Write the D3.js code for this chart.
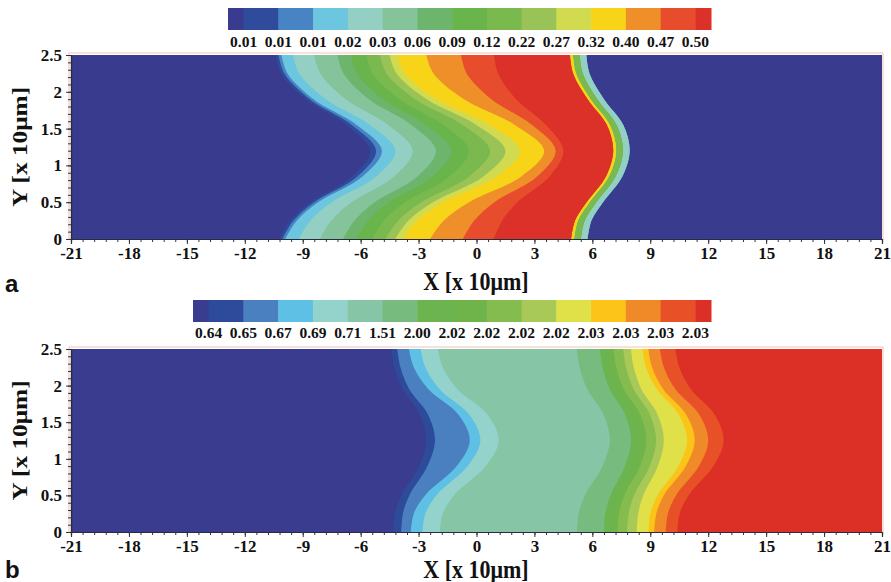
<!DOCTYPE html>
<html><head><meta charset="utf-8">
<script src="https://cdn.jsdelivr.net/npm/d3@7"></script>
<style>body{margin:0;background:#fff}svg{display:block}</style>
</head><body>
<svg id="c" width="891" height="582"></svg>
<script>
// ---------------- DATA ----------------
const xTicks = [-21,-18,-15,-12,-9,-6,-3,0,3,6,9,12,15,18,21];
const yTicks = [0,0.5,1,1.5,2,2.5];

// Panel a
const colorsA = ["#393c8e","#2f4b9b","#4884c4","#6cc6df","#93cfc3","#85c39a","#6db46d","#69b44b","#79b94e","#99c357","#d2db50","#f7d418","#ef8f29","#e74d2c","#dc3128"];
const labelsA = ["0.01","0.01","0.01","0.02","0.03","0.06","0.09","0.12","0.22","0.27","0.32","0.40","0.47","0.50"];
const ysA = [0,0.25,0.5,0.85,1.2,1.55,1.9,2.25,2.5];
const leftA = [
  [-10.2,-9.64,-8.6,-6.44,-5.5,-6.73,-8.83,-10.11,-10.4],
  [-10.05,-9.47,-8.4,-6.17,-5.2,-6.46,-8.63,-9.95,-10.25],
  [-9.9,-9.3,-8.2,-5.9,-4.9,-6.2,-8.44,-9.79,-10.1],
  [-9.2,-8.6,-7.5,-5.2,-4.2,-5.52,-7.8,-9.18,-9.5],
  [-8.1,-7.52,-6.47,-4.26,-3.3,-4.57,-6.77,-8.09,-8.4],
  [-6.9,-6.32,-5.27,-3.06,-2.1,-3.37,-5.57,-6.89,-7.2],
  [-6.2,-5.61,-4.53,-2.28,-1.3,-2.6,-4.84,-6.19,-6.5],
  [-5.4,-4.8,-3.7,-1.4,-0.4,-1.72,-4.0,-5.38,-5.7],
  [-4.7,-4.05,-2.86,-0.38,0.7,-0.72,-3.18,-4.66,-5.0],
  [-4.2,-3.52,-2.26,0.36,1.5,0.0,-2.58,-4.14,-4.5],
  [-3.8,-3.07,-1.74,1.04,2.25,0.66,-2.07,-3.72,-4.1],
  [-2.4,-1.69,-0.39,2.32,3.5,1.98,-0.65,-2.23,-2.6],
  [-0.7,-0.12,0.93,3.14,4.1,2.88,0.77,-0.51,-0.8],
  [0.9,1.33,2.12,3.78,4.5,3.6,2.05,1.12,0.9]
];
const redEdgeA    = [4.9,5.1,5.7,6.7,7.08,6.75,5.75,5.0,4.84];
const yellowEdgeA = [5.05,5.25,5.85,6.85,7.23,6.9,5.9,5.15,4.99];
const greenEdgeA  = [5.4,5.6,6.2,7.2,7.58,7.25,6.25,5.5,5.34];
const tealEdgeA   = [5.75,5.95,6.55,7.55,7.93,7.6,6.6,5.85,5.69];

// Panel b
const colorsB = ["#3a3c8f","#2e4b9b","#4a80c0","#5ec0e4","#94d2cc","#86c6a6","#77bb7f","#6bb44f","#6fb44b","#85bc50","#a8c858","#e0e048","#fcc418","#f08a28","#e85028","#dc3026"];
const labelsB = ["0.64","0.65","0.67","0.69","0.71","1.51","2.00","2.02","2.02","2.02","2.02","2.03","2.03","2.03","2.03"];
const ysB = [0,0.25,0.5,0.9,1.25,1.6,1.95,2.25,2.5];
const boundsB = [
  [-4.3,-4.22,-3.89,-2.97,-2.6,-2.92,-3.82,-4.26,-4.4],
  [-3.9,-3.81,-3.48,-2.54,-2.15,-2.5,-3.48,-3.94,-4.1],
  [-3.4,-3.25,-2.67,-1.02,-0.35,-0.92,-2.49,-3.25,-3.5],
  [-2.8,-2.65,-2.08,-0.46,0.2,-0.36,-1.91,-2.65,-2.9],
  [-1.9,-1.75,-1.17,0.48,1.15,0.58,-0.99,-1.75,-2.0],
  [5.2,5.29,5.61,6.53,6.9,6.59,5.74,5.34,5.2],
  [6.6,6.67,6.94,7.69,8.0,7.71,6.91,6.53,6.4],
  [7.0,7.07,7.34,8.09,8.4,8.11,7.31,6.93,6.8],
  [7.3,7.38,7.66,8.47,8.8,8.49,7.64,7.24,7.1],
  [7.8,7.88,8.16,8.97,9.3,8.99,8.14,7.74,7.6],
  [8.3,8.37,8.64,9.39,9.7,9.39,8.54,8.14,8.0],
  [8.9,9.0,9.38,10.46,10.9,10.49,9.34,8.78,8.6],
  [9.2,9.31,9.7,10.84,11.3,10.87,9.67,9.09,8.9],
  [9.8,9.91,10.33,11.52,12.0,11.55,10.3,9.7,9.5],
  [10.4,10.52,10.98,12.27,12.8,12.35,11.1,10.5,10.3]
];

// ---------------- DRAW ----------------
const svg = d3.select("#c");
const SERIF = "'Liberation Serif','Times New Roman',serif";
const SANS = "'Liberation Sans',Arial,sans-serif";

function colorbar(colors, labels, x0, x1, y0, y1, labY){
  const n = labels.length;
  const s = d3.scaleLinear().domain([-0.45, n - 1 + 0.45]).range([x0, x1]);
  const g = svg.append("g");
  colors.forEach((c,j)=>{
    const a = Math.max(j-1, -0.45), b = Math.min(j, n-1+0.45);
    g.append("rect").attr("x", s(a)).attr("y", y0).attr("width", s(b)-s(a)+0.5).attr("height", y1-y0).attr("fill", c);
  });
  g.selectAll("text").data(labels).join("text")
    .attr("x",(d,i)=>s(i)).attr("y",labY).attr("text-anchor","middle")
    .attr("font-family",SERIF).attr("font-weight","bold").attr("font-size",15.5).attr("fill","#111")
    .text(d=>d);
}

function panel(o){
  const x = d3.scaleLinear().domain([-21,21]).range([71,882]);
  const y = d3.scaleLinear().domain([0,2.5]).range([o.bottom,o.top]);
  const g = svg.append("g");
  const cid = "clip"+o.id;
  g.append("clipPath").attr("id",cid).append("rect")
    .attr("x",x(-21)).attr("y",y(2.5)).attr("width",x(21)-x(-21)).attr("height",y(0)-y(2.5));
  g.append("rect").attr("x",x(-21)-2).attr("y",y(2.5)-2).attr("width",x(21)-x(-21)+3).attr("height",y(0)-y(2.5)+2)
    .attr("fill","none").attr("stroke","#f2c4b6").attr("stroke-width",1);
  const pg = g.append("g").attr("clip-path",`url(#${cid})`);
  pg.append("rect").attr("x",x(-21)).attr("y",y(2.5)).attr("width",x(21)-x(-21)).attr("height",y(0)-y(2.5)).attr("fill",o.colors[0]);
  const area = d3.area().y(d=>y(d.y)).x0(d=>x(d.a)).x1(d=>x(d.b)).curve(d3.curveCatmullRom);
  o.bands.forEach((bd,k)=>{
    const pts = o.ys.map((yy,i)=>({y:yy, a:bd.left[i], b:bd.right[i]}));
    pg.append("path").attr("d",area(pts)).attr("fill",o.colors[k+1]);
  });
  g.append("g").attr("transform",`translate(0,${o.bottom})`)
    .call(d3.axisBottom(x).tickValues(d3.range(-21,21.001,0.6)).tickSize(3).tickFormat(""));
  g.append("g").attr("transform",`translate(0,${o.bottom})`)
    .call(d3.axisBottom(x).tickValues(xTicks).tickSize(5).tickPadding(3).tickFormat(d=>String(d)));
  g.append("g").attr("transform",`translate(${x(-21)},0)`)
    .call(d3.axisLeft(y).tickValues(d3.range(0,2.5001,0.1)).tickSize(3).tickFormat(""));
  g.append("g").attr("transform",`translate(${x(-21)},0)`)
    .call(d3.axisLeft(y).tickValues(yTicks).tickSize(5).tickPadding(4).tickFormat(d=>String(d)));
  g.selectAll(".domain").attr("stroke","#2a2a40").attr("stroke-width",1.2);
  g.selectAll(".tick line").attr("stroke","#333");
  g.selectAll(".tick text").attr("font-family",SERIF).attr("font-weight","bold").attr("font-size",17).attr("fill","#111");
  g.append("text").attr("transform",`translate(476,${o.xTitleY}) scale(1,1.12)`).attr("text-anchor","middle")
    .attr("font-family",SERIF).attr("font-weight","bold").attr("font-size",22).attr("fill","#111").text("X [x 10μm]");
  g.append("text").attr("transform",`translate(27,${(o.top+o.bottom)/2}) rotate(-90) scale(1.15,1)`).attr("text-anchor","middle")
    .attr("font-family",SERIF).attr("font-weight","bold").attr("font-size",22).attr("fill","#111").text("Y [x 10μm]");
  g.append("text").attr("x",5).attr("y",o.letterY).attr("font-family",SANS).attr("font-weight","bold")
    .attr("font-size",24).attr("fill","#111").text(o.letter);
}

const bandsA = leftA.map((l,i)=>{
  const k = i+1;
  const right = k<=4 ? tealEdgeA : k<=8 ? greenEdgeA : k<=11 ? yellowEdgeA : redEdgeA;
  return {left:l, right:right};
});
const bandsB = boundsB.map(l=>({left:l, right:l.map(()=>22)}));

colorbar(colorsA, labelsA, 228, 711, 8, 30, 46.5);
colorbar(colorsB, labelsB, 193, 711, 300, 322, 338);
panel({id:"a", top:55, bottom:239, ys:ysA, colors:colorsA, bands:bandsA, xTitleY:290, letter:"a", letterY:292});
panel({id:"b", top:349, bottom:532, ys:ysB, colors:colorsB, bands:bandsB, xTitleY:578, letterY:578, letter:"b"});
</script>
</body></html>
